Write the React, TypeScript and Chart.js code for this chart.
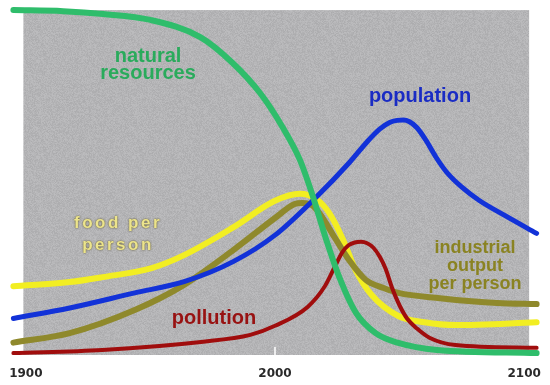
import React, { useEffect, useRef } from "react";
import { Chart, registerables } from "chart.js";

Chart.register(...registerables);

// ---- data (years on x, relative level 0-100 on y) ----
const tickYears = [1900, 2000, 2100];

const resourceYears = [1895, 1915, 1931, 1950, 1970, 1983, 1994, 2003, 2010, 2015, 2020.6, 2025.8, 2032.5, 2040.4, 2049.5, 2065, 2105];
const resourceValues = [99.4, 99.1, 98.3, 96.6, 91.7, 84.3, 75.7, 66, 56.6, 46.6, 33.7, 23.1, 12.9, 7.1, 4.3, 2.3, 1.4];

const populationYears = [1895, 1917.6, 1943.7, 1963.5, 1983.4, 2000, 2016.6, 2029.7, 2037, 2042, 2046, 2049, 2051.5, 2054, 2057, 2060.5, 2064.5, 2069, 2075, 2082, 2092, 2105];
const populationValues = [11.3, 14.3, 18.6, 21.8, 27.6, 35.1, 46, 55.7, 61.8, 65.4, 67.3, 67.9, 68, 67.5, 65.8, 62.3, 57.5, 53, 48.8, 45, 40.8, 35.6];

const foodYears = [1895, 1917.6, 1930.7, 1950.5, 1963.5, 1983.4, 2000, 2009.9, 2016.6, 2021.8, 2027, 2032.5, 2038.8, 2049.5, 2060, 2072.5, 2105];
const foodValues = [20.5, 21.7, 23.1, 25.7, 29.4, 37.4, 44.9, 46.9, 45.4, 41.4, 34.3, 24.9, 18, 12, 10.2, 9.4, 10.2];

const industryYears = [1895, 1917.6, 1943.7, 1963.5, 1983.4, 2000, 2007.9, 2011.1, 2014.7, 2017.8, 2023.8, 2029.7, 2036.5, 2043.6, 2049.5, 2066.2, 2089.2, 2105];
const industryValues = [4.4, 7.1, 13.7, 20.9, 30.9, 40, 44, 44.3, 43.7, 41.4, 34.6, 28, 22.3, 20, 18.6, 17.1, 15.7, 15.4];

const pollutionYears = [1895, 1930.7, 1970.3, 1990.1, 2000, 2013.1, 2020, 2023.8, 2027, 2029.5, 2032, 2034.5, 2037, 2039.5, 2042, 2044.4, 2047, 2050, 2053, 2057, 2062, 2072.5, 2105];
const pollutionValues = [1.4, 2.3, 4.6, 6.6, 9.2, 14.6, 20.5, 25.8, 30.2, 32.2, 33, 33.2, 32.8, 31.5, 29, 25.5, 20, 15, 11.3, 8.4, 5.8, 3.7, 2.9];

const zip = (xs: number[], ys: number[]) => xs.map((x, i) => ({ x, y: ys[i] }));

const seriesStyle = (color: string, width: number) => ({
  borderColor: color,
  borderWidth: width,
  pointRadius: 0,
  pointHoverRadius: 0,
  fill: false,
  cubicInterpolationMode: "monotone" as const,
  borderCapStyle: "round" as const,
  borderJoinStyle: "round" as const,
  clip: 12,
});

function makeNoise(): HTMLCanvasElement {
  const c = document.createElement("canvas");
  c.width = 96;
  c.height = 96;
  const g = c.getContext("2d")!;
  const img = g.createImageData(96, 96);
  let s = 12345;
  for (let i = 0; i < 96 * 96; i++) {
    s = (s * 1103515245 + 12345) & 0x7fffffff;
    const d = ((s >> 8) % 17) - 8;
    const v = 180 + d;
    img.data[i * 4] = v;
    img.data[i * 4 + 1] = v;
    img.data[i * 4 + 2] = v + 2;
    img.data[i * 4 + 3] = 255;
  }
  g.putImageData(img, 0, 0);
  return c;
}

const backdropPlugin = {
  id: "backdrop",
  beforeDatasetsDraw(chart: any) {
    const { ctx, scales } = chart;
    const x = scales.x;
    const y = scales.y;
    const left = x.getPixelForValue(1899);
    const right = x.getPixelForValue(2102);
    const top = y.getPixelForValue(99.4);
    const bottom = y.getPixelForValue(0.86);
    ctx.save();
    const pat = ctx.createPattern(makeNoise(), "repeat");
    ctx.fillStyle = pat || "#b3b3b3";
    ctx.fillRect(left, top, right - left, bottom - top);
    // tick mark at 2000
    const tx = x.getPixelForValue(2000);
    ctx.strokeStyle = "#ffffff";
    ctx.lineWidth = 1.5;
    ctx.beginPath();
    ctx.moveTo(tx, bottom - 8);
    ctx.lineTo(tx, bottom);
    ctx.stroke();
    ctx.restore();
  },
};

type Note = { lines: string[]; cx: number; cy: number[]; color: string; font: string; spacing?: string; shadow?: string };

const notes: Note[] = [
  { lines: ["natural", "resources"], cx: 148, cy: [56, 73], color: "#2aab5c", font: 'bold 20px "Liberation Sans", Arial, sans-serif' },
  { lines: ["population"], cx: 420, cy: [96], color: "#1a2cc4", font: 'bold 20px "Liberation Sans", Arial, sans-serif' },
  { lines: ["food per", "person"], cx: 118, cy: [223, 245], color: "#ece48c", font: 'bold 17px "Liberation Sans", Arial, sans-serif', spacing: "2.5px", shadow: "rgba(70,60,10,0.95)" },
  { lines: ["pollution"], cx: 214, cy: [318], color: "#981212", font: 'bold 20px "Liberation Sans", Arial, sans-serif' },
  { lines: ["industrial", "output", "per person"], cx: 475, cy: [248, 266, 284], color: "#8a8322", font: 'bold 18px "Liberation Sans", Arial, sans-serif' },
];

const notesPlugin = {
  id: "notes",
  afterDatasetsDraw(chart: any) {
    const { ctx } = chart;
    ctx.save();
    ctx.textAlign = "center";
    ctx.textBaseline = "middle";
    for (const n of notes) {
      ctx.font = n.font;
      (ctx as any).letterSpacing = n.spacing || "0px";
      ctx.fillStyle = n.color;
      if (n.shadow) {
        ctx.shadowColor = n.shadow;
        ctx.shadowBlur = 2;
        ctx.shadowOffsetX = 0;
        ctx.shadowOffsetY = 0;
      } else {
        ctx.shadowColor = "transparent";
        ctx.shadowBlur = 0;
      }
      n.lines.forEach((t, i) => ctx.fillText(t, n.cx, n.cy[i]));
    }
    ctx.restore();
  },
};

export default function App() {
  const ref = useRef<HTMLCanvasElement | null>(null);

  useEffect(() => {
    if (!ref.current) return;
    const chart = new Chart(ref.current, {
      type: "line",
      data: {
        datasets: [
          { label: "natural resources", data: zip(resourceYears, resourceValues), ...seriesStyle("#2fbd6b", 6) },
          { label: "pollution", data: zip(pollutionYears, pollutionValues), ...seriesStyle("#a00d0d", 4) },
          { label: "population", data: zip(populationYears, populationValues), ...seriesStyle("#1232d8", 5) },
          { label: "industrial output per person", data: zip(industryYears, industryValues), ...seriesStyle("#8f892c", 6) },
          { label: "food per person", data: zip(foodYears, foodValues), ...seriesStyle("#f2ee22", 6) },
        ],
      },
      options: {
        responsive: false,
        animation: false,
        devicePixelRatio: 1,
        layout: { padding: { left: 10, right: 10, top: 8, bottom: 0 } },
        plugins: { legend: { display: false }, tooltip: { enabled: false } },
        events: [],
        scales: {
          x: {
            type: "linear",
            min: 1895,
            max: 2105,
            afterBuildTicks: (scale: any) => {
              scale.ticks = tickYears.map((v) => ({ value: v }));
            },
            afterFit: (scale: any) => {
              scale.height = 27;
            },
            grid: { display: false, drawTicks: false },
            border: { display: false },
            ticks: {
              padding: 9,
              autoSkip: false,
              maxRotation: 0,
              color: "#2a2a2a",
              font: { family: '"DejaVu Sans", Verdana, sans-serif', size: 12, weight: "bold" },
              callback: (v: any) => String(v),
            },
          },
          y: { type: "linear", min: 0, max: 100, display: false },
        },
      },
      plugins: [backdropPlugin, notesPlugin],
    });
    return () => chart.destroy();
  }, []);

  return (
    <div style={{ position: "absolute", left: 0, top: 0, width: 550, height: 385, background: "#fff" }}>
      <canvas ref={ref} width={550} height={385} />
    </div>
  );
}
